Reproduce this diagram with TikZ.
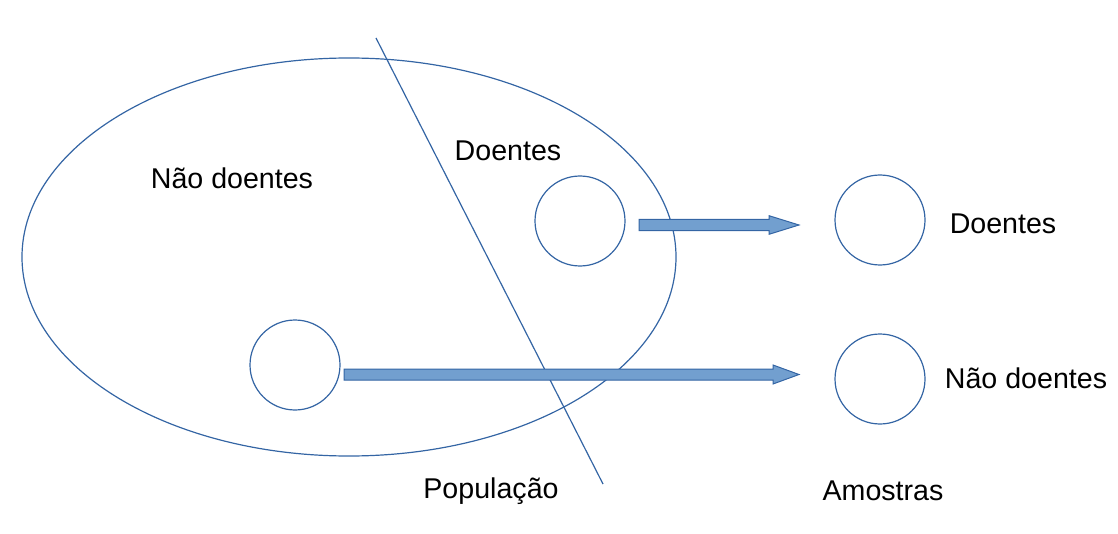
\documentclass[tikz,border=0pt]{standalone}
\usepackage{fontspec}
\setmainfont{Liberation Sans}
\usetikzlibrary{shapes.geometric,calc}
\definecolor{edge}{HTML}{3465A4}
\definecolor{arrfill}{HTML}{729FCF}
\begin{document}
\begin{tikzpicture}[x=0.5pt,y=-0.5pt,
  outline/.style={draw=edge,line width=0.6pt},
  circ/.style={outline,circle,minimum size=45pt,inner sep=0pt},
  lbl/.style={font=\fontsize{14.3}{17}\selectfont,inner sep=0pt}]
\useasboundingbox (0,0) rectangle (1118,534);
\node[outline,ellipse,minimum width=327pt,minimum height=199pt,inner sep=0pt] (pop) at (349,257) {};
\coordinate (lt) at (376,38);
\coordinate (lb) at (603,484);
\draw[outline] (lt) -- (lb);
\node[circ] (cd) at (580,221) {};
\node[circ] (cn) at (295,365) {};
\node[circ] (sd) at (880,220) {};
\node[circ] (sn) at (880,379) {};
\node[lbl] (tnd) at (232,178) {Não doentes};
\node[lbl] (td) at (508,151) {Doentes};
\node[lbl] (tsd) at (1003,224) {Doentes};
\node[lbl] (tsn) at (1026,378) {Não doentes};
\node[lbl] (tpop) at (491,491) {População};
\node[lbl] (tam) at (883,491) {Amostras};
% arrows as filled polygons
\coordinate (a1s) at (639,225);
\coordinate (a1t) at (799,225);
\filldraw[fill=arrfill,draw=edge,line width=0.5pt]
  ($(a1s)+(0,-5.7)$) -- (769,219.3) -- (769,215.7) -- (a1t) -- (769,234.3) -- (769,230.7) -- ($(a1s)+(0,5.7)$) -- cycle;
\coordinate (a2s) at (344,374.5);
\coordinate (a2t) at (799,374.5);
\filldraw[fill=arrfill,draw=edge,line width=0.5pt]
  ($(a2s)+(0,-5.5)$) -- (773,369) -- (773,365) -- (a2t) -- (773,384) -- (773,380) -- ($(a2s)+(0,5.5)$) -- cycle;
\end{tikzpicture}
\end{document}
